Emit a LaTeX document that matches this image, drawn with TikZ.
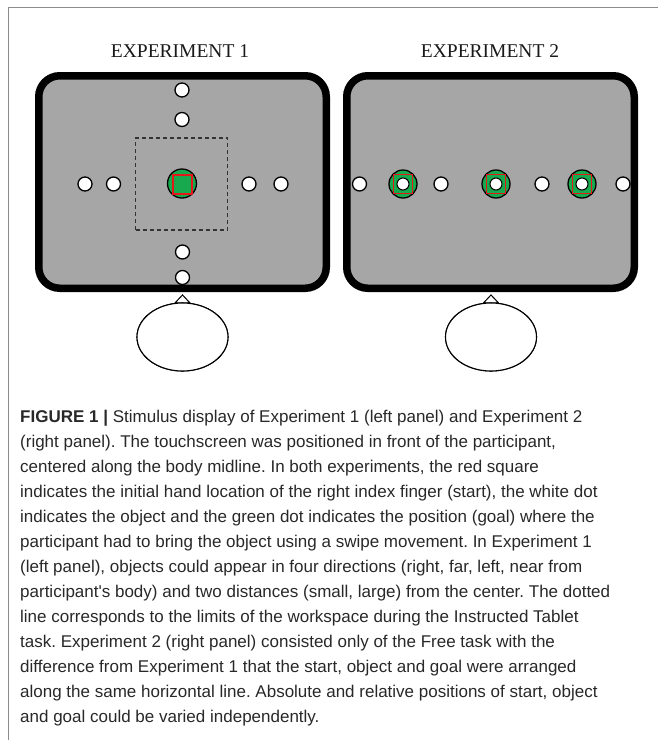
\documentclass[tikz,border=0pt]{standalone}
\usepackage{fontspec}
\setmainfont{Liberation Serif}
\newfontfamily\capfont{Liberation Sans}
\usetikzlibrary{shapes.geometric,calc}
\definecolor{scrgray}{RGB}{166,166,166}
\definecolor{goalgreen}{RGB}{24,168,78}
\definecolor{startred}{RGB}{228,24,24}
\definecolor{framegray}{RGB}{140,140,140}
\definecolor{captext}{RGB}{40,40,40}
\tikzset{
  screen/.style={draw=black, fill=scrgray, line width=7.5pt, rounded corners=21pt,
    minimum width=287.5pt, minimum height=212.5pt, inner sep=0pt},
  obj/.style={circle, draw=black, fill=white, line width=1.3pt, minimum size=14pt, inner sep=0pt},
  smallobj/.style={circle, draw=black, fill=white, line width=1pt, minimum size=12pt, inner sep=0pt},
  goal/.style={circle, draw=black, fill=goalgreen, line width=1.3pt, minimum size=28pt, inner sep=0pt},
  startsq/.style={rectangle, draw=startred, line width=1.2pt, minimum size=19pt, inner sep=0pt},
  workspace/.style={rectangle, draw=black!80, dashed, dash pattern=on 4pt off 3pt, line width=1.2pt,
    minimum size=92pt, inner sep=0pt},
  head/.style={ellipse, draw=black, fill=white, line width=1.1pt, minimum width=91pt,
    minimum height=68pt, inner sep=0pt},
  nose/.style={draw=black, fill=white, line width=1pt, line join=miter},
  title/.style={font=\fontsize{19.5}{22}\selectfont, anchor=base, text=black!90},
  frameline/.style={draw=framegray, line width=1pt}
}
\frenchspacing
\begin{document}
\begin{tikzpicture}[x=1pt,y=-1pt]
\useasboundingbox (0,0) rectangle (658,740);
% frame
\coordinate (fbl) at (8,741);
\coordinate (ftl) at (8,7);
\coordinate (ftr) at (659,7);
\draw[frameline] (fbl) -- (ftl) -- (ftr);

% titles
\node[title] (t1) at (180,57) {EXPERIMENT 1};
\node[title] (t2) at (490,57) {EXPERIMENT 2};

% ---------- Experiment 1 ----------
\node[screen] (scr1) at (182.5,182) {};
\node[workspace] (ws) at (181.5,184) {};
\node[obj] (u2) at (182,90) {};
\node[obj] (u1) at (182,119.5) {};
\node[obj] (l2) at (85,184) {};
\node[obj] (l1) at (113.5,184) {};
\node[obj] (r1) at (249,184) {};
\node[obj] (r2) at (281,184) {};
\node[obj] (d1) at (182.5,252) {};
\node[obj] (d2) at (182.5,277.5) {};
\node[goal, minimum size=29pt] (g1) at (182,183.5) {};
\node[startsq, fill=goalgreen] (s1) at (182.5,184.5) {};

% head 1
\node[head] (h1) at (182.5,337) {};
\path[nose] ($(h1.north)+(-7.5,0.5)$) coordinate (n1a) -- ($(h1.north)+(0,-7.5)$) coordinate (n1b)
  -- ($(h1.north)+(7.5,0.5)$) coordinate (n1c) -- cycle;
\node[head] (h1b) at (182.5,337) {};

% ---------- Experiment 2 ----------
\node[screen] (scr2) at (490.5,182) {};
\node[obj] (e1) at (359.5,184) {};
\node[goal] (g2a) at (403,184) {};
\node[startsq] (s2a) at (403,184) {};
\node[smallobj] (o2a) at (403,184) {};
\node[obj] (e2) at (441,184) {};
\node[goal] (g2b) at (496,184) {};
\node[startsq] (s2b) at (496,184) {};
\node[smallobj] (o2b) at (496,184) {};
\node[obj] (e3) at (542,184) {};
\node[goal] (g2c) at (582,184) {};
\node[startsq] (s2c) at (582,184) {};
\node[smallobj] (o2c) at (582,184) {};
\node[obj] (e4) at (623,184) {};

% head 2
\node[head] (h2) at (491,337) {};
\path[nose] ($(h2.north)+(-7.5,0.5)$) coordinate (n2a) -- ($(h2.north)+(0,-7.5)$) coordinate (n2b)
  -- ($(h2.north)+(7.5,0.5)$) coordinate (n2c) -- cycle;
\node[head] (h2b) at (491,337) {};

% caption
\node[anchor=base west, align=left, inner sep=0pt, text=captext,
  font=\capfont\fontsize{17}{25}\selectfont] (cap) at (20,722) {%
\textbf{FIGURE 1 |} Stimulus display of Experiment 1 (left panel) and Experiment 2\\
(right panel). The touchscreen was positioned in front of the participant,\\
centered along the body midline. In both experiments, the red square\\
indicates the initial hand location of the right index finger (start), the white dot\\
indicates the object and the green dot indicates the position (goal) where the\\
participant had to bring the object using a swipe movement. In Experiment 1\\
(left panel), objects could appear in four directions (right, far, left, near from\\
participant's body) and two distances (small, large) from the center. The dotted\\
line corresponds to the limits of the workspace during the Instructed Tablet\\
task. Experiment 2 (right panel) consisted only of the Free task with the\\
difference from Experiment 1 that the start, object and goal were arranged\\
along the same horizontal line. Absolute and relative positions of start, object\\
and goal could be varied independently.};
\end{tikzpicture}
\end{document}
